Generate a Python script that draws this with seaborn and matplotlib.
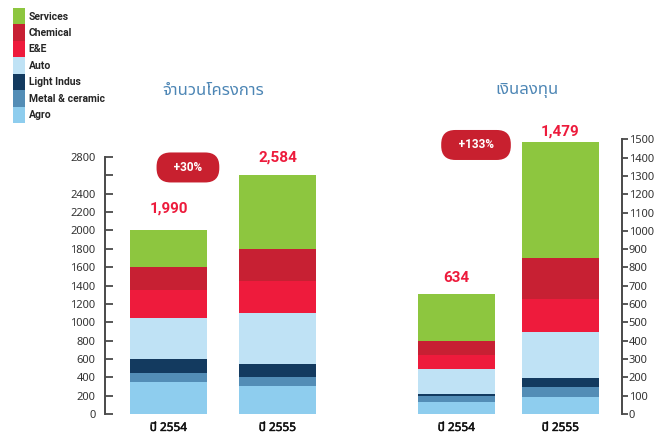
import numpy as np
import pandas as pd
import matplotlib
matplotlib.use("Agg")
import matplotlib.pyplot as plt
import matplotlib.patheffects as pe
import seaborn as sns
from matplotlib import font_manager
from matplotlib.ft2font import FT2Font
from matplotlib.patches import Patch

years = ["ปี 2554", "ปี 2555"]
sectors = ["Agro", "Metal & ceramic", "Light Indus", "Auto", "E&E", "Chemical", "Services"]
colors = ["#8ecdee", "#538db6", "#133a5f", "#bfe2f5", "#ee1b3c", "#c72033", "#8dc63f"]

# number of projects (left panel), bottom -> top
projects_2554 = [350, 100, 150, 450, 300, 250, 400]
projects_2555 = [300, 100, 150, 550, 350, 350, 800]
# investment (right panel), bottom -> top
invest_2554 = [67, 33, 11, 135, 76, 77, 256]
invest_2555 = [93, 54, 50, 251, 180, 226, 631]

project_totals = ["1,990", "2,584"]
invest_totals = ["634", "1,479"]
project_growth = "+30%"
invest_growth = "+133%"
project_title = "จำนวนโครงการ"
invest_title = "เงินลงทุน"
project_ticks = list(range(0, 2801, 200))
invest_ticks = list(range(0, 1501, 100))


def find_thai_font():
    names = []
    for f in font_manager.fontManager.ttflist:
        try:
            if 0x0E07 in FT2Font(f.fname).get_charmap():
                names.append(f.name)
        except Exception:
            pass
    for pref in ["Noto Sans Thai", "Noto Sans Thai UI", "Loma", "Garuda", "Tlwg Typist"]:
        if pref in names:
            return pref
    return names[0] if names else None


sns.set_style("white")
thai = find_thai_font()
family = [thai, "DejaVu Sans"] if thai else ["DejaVu Sans"]
latin = ["Roboto", "DejaVu Sans"]
plt.rcParams["font.family"] = family

RED = "#ed1b3c"
BADGE = "#c8202f"
TITLE = "#4d86b5"
AXIS = "#4a4a4a"

W, H = 664, 434
fig = plt.figure(figsize=(W / 100, H / 100), dpi=100)
# axes boxes from pixel measurements
ax1 = fig.add_axes([105 / W, 20 / H, 227 / W, 257 / H])
ax2 = fig.add_axes([400 / W, 20 / H, 221.7 / W, 274.7 / H])


def stacked(ax, v1, v2, width):
    df = pd.DataFrame({
        "year": np.repeat(years, len(sectors)),
        "sector": sectors * 2,
        "value": v1 + v2,
    })
    df["cum"] = df.groupby("year")["value"].cumsum()
    # draw tallest layer first so lower layers cover it
    for sec, col in reversed(list(zip(sectors, colors))):
        sub = df[df["sector"] == sec]
        sns.barplot(data=sub, x="year", y="cum", color=col, width=width,
                    saturation=1, linewidth=0, errorbar=None, ax=ax)
    return df.groupby("year", sort=False)["value"].sum().values


tot1 = stacked(ax1, projects_2554, projects_2555, 0.706)
tot2 = stacked(ax2, invest_2554, invest_2555, 0.74)

ax1.set_xlim(-0.583, 1.5)
ax1.set_ylim(0, 2800)
ax2.set_xlim(-0.543, 1.589)
ax2.set_ylim(0, 1500)

for ax in (ax1, ax2):
    ax.set_xlabel("")
    ax.set_ylabel("")
    for s in ax.spines.values():
        s.set_visible(False)
    ax.tick_params(axis="x", length=0, pad=5)
    for lab in ax.get_xticklabels():
        lab.set_fontsize(8.5)
        lab.set_fontweight("bold")
        lab.set_color("#111111")
        lab.set_path_effects([pe.withStroke(linewidth=0.35, foreground="#111111")])

ax1.spines["left"].set_visible(True)
ax1.spines["left"].set_color(AXIS)
ax1.spines["left"].set_linewidth(1.4)
ax1.set_yticks(project_ticks)
ax1.set_yticklabels(["" if t == 2600 else str(t) for t in project_ticks])
ax1.tick_params(axis="y", left=True, direction="in", length=6, width=1.3, color=AXIS,
                labelsize=8, labelcolor="#333333", pad=7)

ax2.spines["right"].set_visible(True)
ax2.spines["right"].set_color(AXIS)
ax2.spines["right"].set_linewidth(1.4)
ax2.yaxis.tick_right()
ax2.set_yticks(invest_ticks)
ax2.set_yticklabels([str(t) for t in invest_ticks])
ax2.tick_params(axis="y", right=True, direction="out", length=4, width=1.3, color=AXIS,
                labelsize=8, labelcolor="#333333", pad=1)

# total labels above bars
for ax, tots, labels, offs in ((ax1, tot1, project_totals, (22, 18)),
                               (ax2, tot2, invest_totals, (16, 10))):
    for i, (t, lab) in enumerate(zip(tots, labels)):
        ax.annotate(lab, (i, t), xytext=(0, offs[i]), textcoords="offset pixels",
                    ha="center", va="center", color=RED, fontsize=11,
                    fontweight="bold", family=latin, annotation_clip=False)

# growth badges
for ax, txt, xy in ((ax1, project_growth, (0.178, 2686)),
                    (ax2, invest_growth, (0.188, 1469))):
    ax.text(xy[0], xy[1], "   " + txt + "   ", ha="center", va="center",
            color="white", fontsize=8.5, fontweight="bold", family=latin, clip_on=False,
            bbox=dict(boxstyle="round,pad=0.72,rounding_size=1.2", fc=BADGE, ec="none"))

fig.text(213 / W, 1 - 91 / H, project_title, ha="center", va="center",
         color=TITLE, fontsize=12)
fig.text(527 / W, 1 - 90 / H, invest_title, ha="center", va="center",
         color=TITLE, fontsize=12)

handles = [Patch(facecolor=c, edgecolor="none", label=s)
           for s, c in zip(sectors, colors)][::-1]
fig.legend(handles=handles, loc="upper left", bbox_to_anchor=(13 / W, 1 - 8 / H),
           frameon=False, handlelength=1.15, handleheight=2.05,
           labelspacing=0, handletextpad=0.35, borderpad=0, borderaxespad=0,
           prop={"weight": "bold", "size": 7.5, "family": latin})

fig.savefig("out.png", dpi=100)
